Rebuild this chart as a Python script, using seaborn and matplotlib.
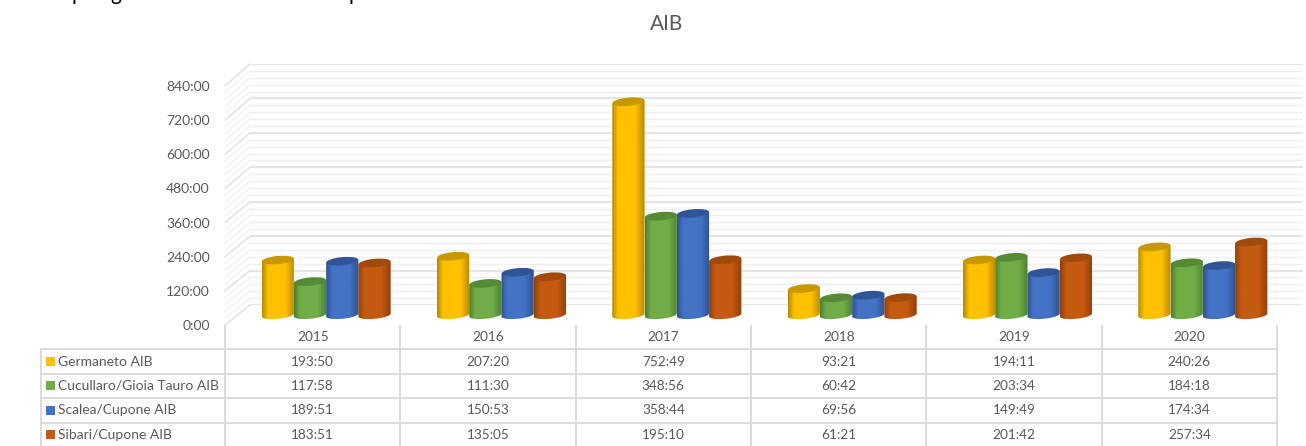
import numpy as np
import pandas as pd
import matplotlib
matplotlib.use("Agg")
import matplotlib.pyplot as plt
import seaborn as sns
from matplotlib.colors import LinearSegmentedColormap
from matplotlib.patches import ConnectionPatch, Ellipse, Polygon, Rectangle
from matplotlib.transforms import IdentityTransform

# values as printed in the table (hours:minutes)
years = ["2015", "2016", "2017", "2018", "2019", "2020"]
germaneto = ["193:50", "207:20", "752:49", "93:21", "194:11", "240:26"]
cucullaro = ["117:58", "111:30", "348:56", "60:42", "203:34", "184:18"]
scalea = ["189:51", "150:53", "358:44", "69:56", "149:49", "174:34"]
sibari = ["183:51", "135:05", "195:10", "61:21", "201:42", "257:34"]
series_names = ["Germaneto AIB", "Cucullaro/Gioia Tauro AIB", "Scalea/Cupone AIB", "Sibari/Cupone AIB"]
series_values = [germaneto, cucullaro, scalea, sibari]
yticks = [0, 120, 240, 360, 480, 600, 720, 840]
ytick_labels = ["0:00", "120:00", "240:00", "360:00", "480:00", "600:00", "720:00", "840:00"]

colors = ["#FFC000", "#70AD47", "#4472C4", "#C55A11"]
dark_sides = ["#B58A00", "#4F7F32", "#2E5290", "#8F3F0B"]
dark_tops = ["#C99800", "#578A37", "#2F5597", "#A14A0E"]
text_color = "#595959"

W, H = 1306, 446


def to_hours(s):
    h, m = s.split(":")
    return int(h) + int(m) / 60


def px_axes(x0, x1, y_top, y_bottom):
    # axes placed with pixel positions measured from the top left
    return fig.add_axes([x0 / W, 1 - y_bottom / H, (x1 - x0) / W, (y_bottom - y_top) / H])


rows = []
for name, vals in zip(series_names, series_values):
    for year, v in zip(years, vals):
        rows.append({"year": year, "series": name, "hours": to_hours(v)})
df = pd.DataFrame(rows)

sns.set_theme(style="white")
plt.rcParams["font.family"] = ["Lato", "DejaVu Sans"]

fig = plt.figure(figsize=(W / 100, H / 100), dpi=100)
fig.patch.set_facecolor("white")

# back wall with the grid
ax_back = px_axes(250, 1303, 64, 305)
ax_back.set_xlim(0, 1)
ax_back.set_ylim(0, 840)
minor = np.arange(0, 841, 24)
ax_back.set_yticks(minor, minor=True)
ax_back.set_yticks(yticks)
ax_back.set_xticks([])
ax_back.grid(which="minor", axis="y", color="#EFEFEF", lw=1)
ax_back.grid(which="major", axis="y", color="#E4E4E4", lw=1.5)
ax_back.tick_params(which="both", length=0, labelleft=False)
sns.despine(ax=ax_back, left=True, bottom=True)

# front plane, only here for the y labels and the side wall
ax_front = px_axes(225, 1277, 86, 325)
ax_front.set_xlim(0, 1)
ax_front.set_ylim(0, 840)
ax_front.set_yticks(yticks, ytick_labels)
ax_front.set_xticks([])
ax_front.tick_params(axis="y", length=0, pad=11, labelsize=10, labelcolor=text_color)
ax_front.patch.set_alpha(0)
sns.despine(ax=ax_front, left=True, bottom=True)

for v in minor:
    major = v % 120 == 0
    fig.add_artist(ConnectionPatch((0, v), (0, v), "data", "data", axesA=ax_front, axesB=ax_back,
                                   color="#E3E3E3" if major else "#F0F0F0", lw=1.2 if major else 0.9))

# bars
ax = px_axes(238.5, 1290.5, 77, 315)
ax.patch.set_alpha(0)
sns.barplot(data=df, x="year", y="hours", hue="series", hue_order=series_names, order=years,
            palette=colors, width=0.736, gap=0, dodge=True, legend=False, ax=ax, saturation=1)
ax.set_xlim(-0.5, 5.5)
ax.set_ylim(0, 840)
ax.axis("off")
fig.canvas.draw()

y_per_px = 840 / 238
x_per_px = 6 / 1052
tilt = 3.0
ry = 3.8
t = np.linspace(0, np.pi, 40)
z = 3
bars = sorted(ax.patches, key=lambda b: b.get_x())
order = {c: i for i, c in enumerate(matplotlib.colors.to_hex(x) for x in colors)}
for bar in bars:
    i = order[matplotlib.colors.to_hex(bar.get_facecolor())]
    x0, w, h = bar.get_x(), bar.get_width(), bar.get_height()
    if h <= 0:
        continue
    bar.set_visible(False)
    cx = x0 + w / 2
    # body outline, sides plus the lower arc of the cylinder
    px = cx + w / 2 * np.cos(t)
    arc = (-ry * np.sin(t) + tilt / 2 * np.cos(t)) * y_per_px
    outline = np.column_stack([px, arc])
    outline = np.vstack([[x0 + w, h + tilt / 2 * y_per_px], outline, [x0, h - tilt / 2 * y_per_px]])
    clip = Polygon(outline, transform=ax.transData, fc="none", ec="none")
    clip.set_clip_on(False)
    ax.add_patch(clip)
    cmap = LinearSegmentedColormap.from_list("c", [(0, dark_sides[i]), (0.18, colors[i]),
                                                   (0.72, colors[i]), (1, dark_sides[i])])
    im = ax.imshow(np.linspace(0, 1, 64)[None, :], cmap=cmap, aspect="auto",
                   extent=[x0, x0 + w, -10 * y_per_px, h + 10 * y_per_px], zorder=z, interpolation="bilinear")
    im.set_clip_path(clip)
    im.set_clip_box(fig.bbox)
    # top face in screen pixels so the tilt stays right
    top = ax.transData.transform((cx, h))
    ax.add_patch(Ellipse(top, w / x_per_px, 2 * ry + 0.6, angle=np.degrees(np.arctan(tilt / (w / x_per_px))),
                         transform=IdentityTransform(), fc=dark_tops[i], ec="none", zorder=z + 0.5, clip_on=False))
    z += 1
ax.set_xlim(-0.5, 5.5)
ax.set_ylim(0, 840)

# data table under the chart
ax_tab = px_axes(41, 1277, 325, 447)
ax_tab.axis("off")
cell_text = [[""] + years] + [[n] + v for n, v in zip(series_names, series_values)]
col_w = [184 / 1236] + [175.33 / 1236] * 6
table = ax_tab.table(cellText=cell_text, colWidths=col_w, bbox=[0, 0, 1, 1], cellLoc="center")
table.auto_set_font_size(False)
table.set_fontsize(9.8)
for (r, c), cell in table.get_celld().items():
    cell.set_edgecolor("#DADADA")
    cell.set_linewidth(1.4)
    cell.get_text().set_color(text_color)
    if r == 0:
        cell.visible_edges = "LR" if c > 0 else ""
    if c == 0 and r > 0:
        cell.get_text().set_ha("left")
        cell.get_text().set_fontsize(10)
        cell.PAD = 17 / 184

# legend keys inside the table
ax_tab.set_xlim(41, 1277)
ax_tab.set_ylim(447, 325)
for i, c in enumerate(colors):
    yc = 325 + 24.4 * (i + 1.5)
    ax_tab.add_patch(Rectangle((46, yc - 4.5), 9, 9, fc=c, ec="none", zorder=5))

fig.text(667 / W, 1 - 24.5 / H, "AIB", ha="center", va="center", fontsize=15, color=text_color)

# descenders of the line of text cut off at the top edge
for letter, x in zip(["p", "g", "p"], [71.5, 110, 348.5]):
    fig.text(x / W, 1 + 0.5 / H, letter, ha="left", va="baseline", fontsize=15, color="black")

fig.savefig("out.png", dpi=100)
